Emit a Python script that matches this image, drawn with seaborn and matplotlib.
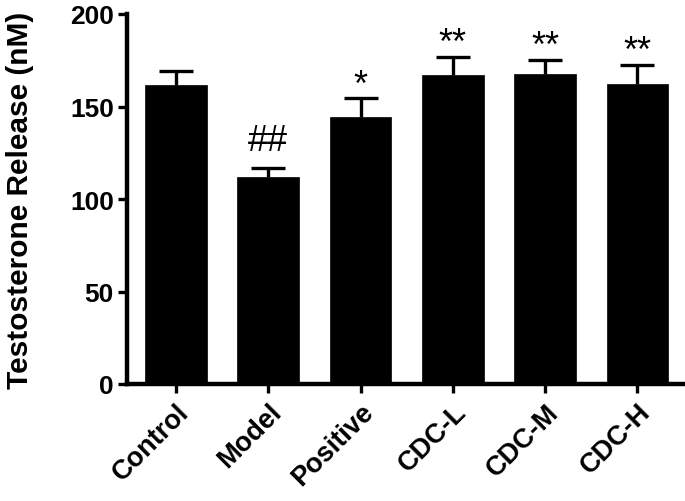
import matplotlib
matplotlib.use("Agg")
import matplotlib.pyplot as plt
import matplotlib.transforms as mtransforms
import seaborn as sns
import pandas as pd
import numpy as np

groups = ["Control", "Model", "Positive", "CDC-L", "CDC-M", "CDC-H"]
means = [161.8, 111.7, 144.5, 167.0, 167.4, 162.3]
sems = [7.2, 4.9, 9.9, 9.9, 7.7, 10.3]
marks = ["", "##", "*", "**", "**", "**"]
yticks = [0, 50, 100, 150, 200]
ylabel = "Testosterone Release (nM)"

sns.set_theme(style="ticks")
plt.rcParams["font.family"] = ["Liberation Sans", "DejaVu Sans"]
plt.rcParams["text.color"] = "black"
plt.rcParams["axes.labelcolor"] = "black"

df = pd.DataFrame({"group": groups, "mean": means})

fig = plt.figure(figsize=(6.85, 5.02), dpi=100)
ax = fig.add_axes([127 / 685, 117 / 502, 1 - 127 / 685, (385 - 15) / 502])

sns.barplot(data=df, x="group", y="mean", color="black", saturation=1,
            width=0.67, ax=ax, errorbar=None, edgecolor="black", linewidth=0.5,
            zorder=2)

pos = np.arange(len(groups))
eb = ax.errorbar(pos, means, yerr=[np.zeros(len(sems)), sems], fmt="none",
                 ecolor="black", elinewidth=2.4, capsize=12, capthick=2.4,
                 zorder=1)
# hide the lower caps (only upper error bars are shown)
eb[1][0].set_visible(False)

offs = {"*": 2.0, "#": 10.0}
for x, m, s, t in zip(pos, means, sems, marks):
    if t:
        ax.text(x, m + s + offs[t[0]], t, ha="center", va="baseline",
                fontsize=26, color="black")

ax.set_xlim(-0.53, 5.515)
ax.set_ylim(0, 200)
ax.set_yticks(yticks)
ax.set_yticklabels([str(v) for v in yticks], fontsize=19, fontweight="bold")
ax.set_xticks(pos)
ax.set_xticklabels(groups, fontsize=19.5, fontweight="bold", rotation=45,
                   ha="right", rotation_mode="anchor")
shift = mtransforms.ScaledTranslation(-5 / 100, -4 / 100, fig.dpi_scale_trans)
for lab in ax.get_xticklabels():
    lab.set_transform(lab.get_transform() + shift)
ax.set_xlabel("")
ax.set_ylabel(ylabel, fontsize=21.5, fontweight="bold", labelpad=26)
for sp in ["top", "right"]:
    ax.spines[sp].set_visible(False)
for sp in ["left", "bottom"]:
    ax.spines[sp].set_linewidth(3.2)
    ax.spines[sp].set_color("black")
ax.tick_params(axis="both", direction="out", length=6.5, width=2.4,
               color="black", labelcolor="black")
ax.tick_params(axis="y", pad=3)
ax.tick_params(axis="x", pad=4)

fig.savefig("out.png", dpi=100)
